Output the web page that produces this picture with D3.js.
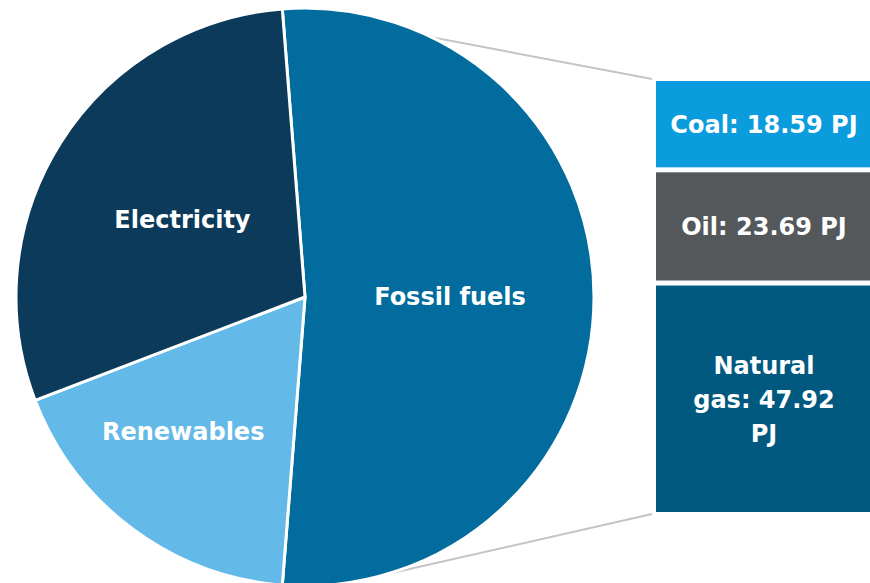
<!DOCTYPE html>
<html>
<head>
<meta charset="utf-8">
<script src="https://cdn.jsdelivr.net/npm/d3@7"></script>
<style>
  html, body { margin: 0; padding: 0; background: #fff; }
  svg { display: block; }
  text { font-family: "DejaVu Sans", sans-serif; font-weight: bold; fill: #fff; }
</style>
</head>
<body>
<svg id="chart" width="870" height="583"></svg>
<script>
// Energy consumption by source (PJ)
const pieCategories = ["Fossil fuels", "Renewables", "Electricity"];
const pieColors = ["#016c9d", "#63b9e7", "#0b3a5a"];

// Breakdown of fossil fuels (PJ)
const fossilCategories = ["Coal", "Oil", "Natural gas"];
const fossilValues = [18.59, 23.69, 47.92];
const fossilColors = ["#0a9cdd", "#54585b", "#01597f"];
const fossilLabels = [["Coal: 18.59 PJ"], ["Oil: 23.69 PJ"], ["Natural", "gas: 47.92", "PJ"]];

const fossilTotal = d3.sum(fossilValues);
const pieValues = [fossilTotal, 30.8, 50.8];

const width = 870, height = 583;
const svg = d3.select("#chart");

const cx = 305, cy = 297, radius = 289;
const fossilFrac = pieValues[0] / d3.sum(pieValues);
const startAngle = Math.PI / 2 - fossilFrac * Math.PI;

const pie = d3.pie().sort(null).value(d => d)
  .startAngle(startAngle).endAngle(startAngle + 2 * Math.PI);
const arcs = pie(pieValues);
const arc = d3.arc().innerRadius(0).outerRadius(radius);

// Stacked bar for the fossil fuel breakdown
const barX0 = 656, barX1 = 872, barTop = 81, barBottom = 512, gap = 5;
const y = d3.scaleLinear().domain([0, fossilTotal]).range([barTop, barBottom]);
const cum = d3.cumsum(fossilValues);
const bars = fossilValues.map((v, i) => {
  const s = i === 0 ? 0 : cum[i - 1];
  const e = cum[i];
  return {
    i,
    y0: y(s) + (i > 0 ? gap / 2 : 0),
    y1: y(e) - (i < fossilValues.length - 1 ? gap / 2 : 0)
  };
});

// Connector lines from the fossil slice to the bar
const pt = (a, r) => [cx + r * Math.sin(a), cy - r * Math.cos(a)];
const fa = arcs[0];
const topStart = pt(fa.startAngle, radius);
const botStart = pt(fa.endAngle, radius + 13);
const lineG = svg.append("g");
[[topStart, [652, barTop - 2]], [botStart, [652, barBottom + 2]]].forEach(([a, b]) => {
  lineG.append("line")
    .attr("x1", a[0]).attr("y1", a[1]).attr("x2", b[0]).attr("y2", b[1])
    .attr("stroke", "#c4c4c4").attr("stroke-width", 2);
});

const pieG = svg.append("g").attr("transform", `translate(${cx},${cy})`);
pieG.selectAll("path").data(arcs).join("path")
  .attr("d", arc)
  .attr("fill", (d, i) => pieColors[i])
  .attr("stroke", "#fff").attr("stroke-width", 3).attr("stroke-linejoin", "round");

const fontSize = 24;
const labelR = 145;
const labelShift = { "Renewables": [-35, 19] };
pieG.selectAll("text").data(arcs).join("text")
  .attr("transform", (d, i) => {
    const m = (d.startAngle + d.endAngle) / 2;
    const sh = labelShift[pieCategories[i]] || [0, 0];
    return `translate(${labelR * Math.sin(m) + sh[0]},${-labelR * Math.cos(m) + sh[1]})`;
  })
  .attr("text-anchor", "middle").attr("dominant-baseline", "central")
  .style("font-size", fontSize + "px")
  .text((d, i) => pieCategories[i]);

const barG = svg.append("g");
barG.selectAll("rect").data(bars).join("rect")
  .attr("x", barX0).attr("width", barX1 - barX0)
  .attr("y", d => d.y0).attr("height", d => d.y1 - d.y0)
  .attr("fill", d => fossilColors[d.i]);

const lineH = 34;
barG.selectAll("text").data(bars).join("text")
  .attr("x", (barX0 + 870) / 2 + 1)
  .attr("y", d => (d.y0 + d.y1) / 2)
  .attr("text-anchor", "middle")
  .style("font-size", fontSize + "px")
  .each(function(d) {
    const lines = fossilLabels[d.i];
    const t = d3.select(this);
    lines.forEach((l, k) => {
      t.append("tspan")
        .attr("x", (barX0 + 870) / 2 + 1)
        .attr("dy", k === 0 ? (-(lines.length - 1) / 2 * lineH + 9) : lineH)
        .text(l);
    });
  });
</script>
</body>
</html>
